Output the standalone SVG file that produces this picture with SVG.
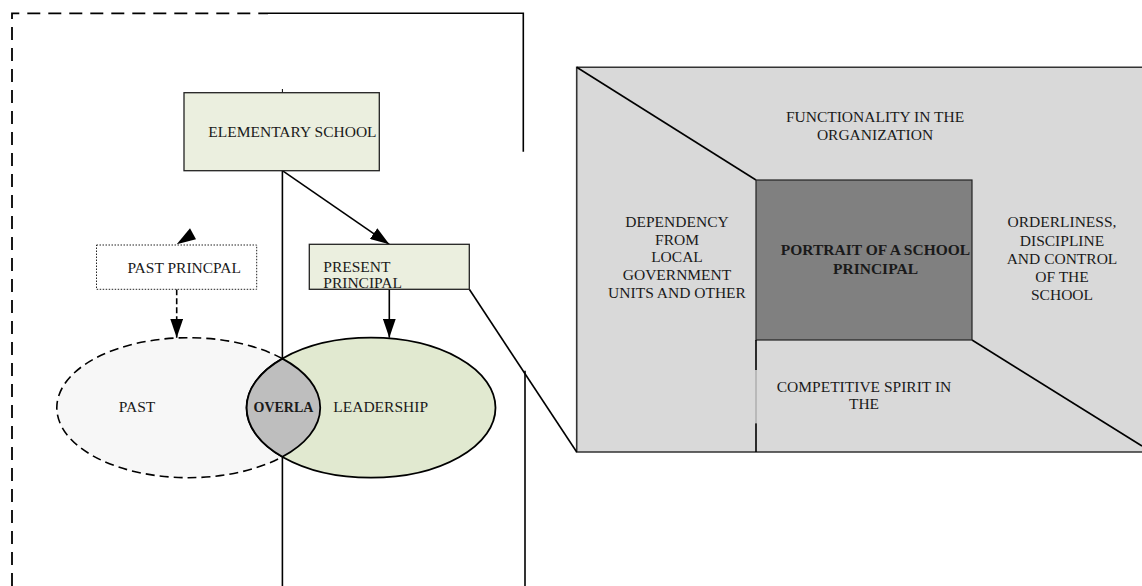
<svg xmlns="http://www.w3.org/2000/svg" width="1142" height="586" viewBox="0 0 1142 586">
  <style>
    .t { font-family: "Liberation Serif", "Times New Roman", serif; font-size: 15.5px; fill: #1a1a1a; }
    .b { font-weight: bold; }
    .m { text-anchor: middle; }
    .ln { fill: none; stroke: #000; stroke-width: 1.6; }
    .box { fill: #ebefdf; stroke: #222; stroke-width: 1.3; }
  </style>
  <defs>
    <marker id="arrow" markerUnits="userSpaceOnUse" markerWidth="20" markerHeight="13" refX="19" refY="6.5" orient="auto">
      <path d="M0,0 L19,6.5 L0,13 Z" fill="#000"/>
    </marker>
  </defs>

  <rect width="1142" height="586" fill="#fff"/>

  <!-- outer frame: dashed left side and start of top edge, solid remainder -->
  <g id="frame">
    <path d="M12,586 V13.3 H268" fill="none" stroke="#000" stroke-width="1.8" stroke-dasharray="13 8"/>
    <path d="M268,13.3 H523.3 V151.7" class="ln"/>
    <line x1="525" y1="370.7" x2="525" y2="586" class="ln"/>
  </g>

  <!-- right-hand panel -->
  <g id="portrait-panel">
    <rect x="576.7" y="67.3" width="580" height="384.7" fill="#d9d9d9"/>
    <path d="M1150,67.3 H576.7 V452 H1150" fill="none" stroke="#333" stroke-width="1.6"/>
    <line x1="576.7" y1="67.3" x2="756" y2="180" class="ln" stroke-width="1.4"/>
    <line x1="972" y1="340" x2="1142" y2="446" class="ln" stroke-width="1.4"/>
    <rect x="756" y="180" width="216" height="160" fill="#808080" stroke="#222" stroke-width="1.2"/>
    <path d="M756,340 V370 M756,423.3 V452" class="ln" stroke-width="1.4"/>
    <line x1="756" y1="370" x2="756" y2="423.3" stroke="#999" stroke-width="1"/>
    <text class="t m" x="875" y="121.7">FUNCTIONALITY IN THE</text>
    <text class="t m" x="875" y="140">ORGANIZATION</text>
    <text class="t m" x="677" y="226.7">DEPENDENCY</text>
    <text class="t m" x="677" y="244.5">FROM</text>
    <text class="t m" x="677" y="262.3">LOCAL</text>
    <text class="t m" x="677" y="280">GOVERNMENT</text>
    <text class="t m" x="677" y="298">UNITS AND OTHER</text>
    <text class="t b m" x="875.5" y="255">PORTRAIT OF A SCHOOL</text>
    <text class="t b m" x="875.5" y="274.3">PRINCIPAL</text>
    <text class="t m" x="1062" y="227.3">ORDERLINESS,</text>
    <text class="t m" x="1062" y="245.7">DISCIPLINE</text>
    <text class="t m" x="1062" y="264">AND CONTROL</text>
    <text class="t m" x="1062" y="282.3">OF THE</text>
    <text class="t m" x="1062" y="300.3">SCHOOL</text>
    <text class="t m" x="864" y="392">COMPETITIVE SPIRIT IN</text>
    <text class="t m" x="864" y="409">THE</text>
  </g>

  <!-- connectors -->
  <g id="connectors">
    <line x1="282.4" y1="89" x2="282.4" y2="92.7" stroke="#000" stroke-width="1"/>
    <line x1="282.4" y1="170.7" x2="282.4" y2="358.6" class="ln"/>
    <line x1="282.4" y1="456.8" x2="282.4" y2="586" class="ln"/>
    <line x1="282.4" y1="170.7" x2="389.3" y2="244.3" class="ln" marker-end="url(#arrow)"/>
    <line x1="389.3" y1="289.3" x2="389.3" y2="337.7" class="ln" marker-end="url(#arrow)"/>
    <line x1="176.7" y1="289.3" x2="176.7" y2="337.7" class="ln" stroke-dasharray="6 3" marker-end="url(#arrow)"/>
    <polygon points="190,228.3 176.7,244.3 196,239.3" fill="#000"/>
    <line x1="469.3" y1="289.3" x2="576.7" y2="452" class="ln" stroke-width="1.4"/>
  </g>

  <g id="elementary-school">
    <rect x="184" y="92.7" width="195.3" height="78" class="box"/>
    <text class="t" x="208.3" y="136.7">ELEMENTARY SCHOOL</text>
  </g>

  <g id="past-principal">
    <rect x="96.5" y="245" width="160.2" height="44.3" fill="#fff" stroke="#222" stroke-width="1" stroke-dasharray="1.5 1.5"/>
    <text class="t" x="127.4" y="272.7">PAST PRINCPAL</text>
  </g>

  <g id="present-principal">
    <rect x="309.3" y="244.3" width="160" height="45" fill="#ebefdf"/>
    <text class="t" x="323.3" y="271.7">PRESENT</text>
    <text class="t" x="323.3" y="287.6">PRINCIPAL</text>
    <rect x="309.3" y="244.3" width="160" height="45" fill="none" stroke="#222" stroke-width="1.3"/>
  </g>

  <g id="past">
    <ellipse cx="188.5" cy="407.7" rx="131.7" ry="70" fill="#f7f7f7" stroke="#000" stroke-width="1.6" stroke-dasharray="9 5"/>
    <text class="t" x="118.8" y="412.3">PAST</text>
  </g>

  <g id="leadership">
    <ellipse cx="371" cy="407.7" rx="124.5" ry="70" fill="#e1e9d0" stroke="#000" stroke-width="1.8"/>
    <text class="t" x="333.3" y="412.3">LEADERSHIP</text>
  </g>

  <g id="overlap">
    <path d="M282.4,358.6 A124.5,70 0 0 0 282.4,456.8 A131.7,70 0 0 0 282.4,358.6 Z" fill="#bebebe" stroke="#000" stroke-width="1.8"/>
    <text class="t b" x="253.5" y="412.3" style="font-size:14px">OVERLA</text>
  </g>
</svg>
